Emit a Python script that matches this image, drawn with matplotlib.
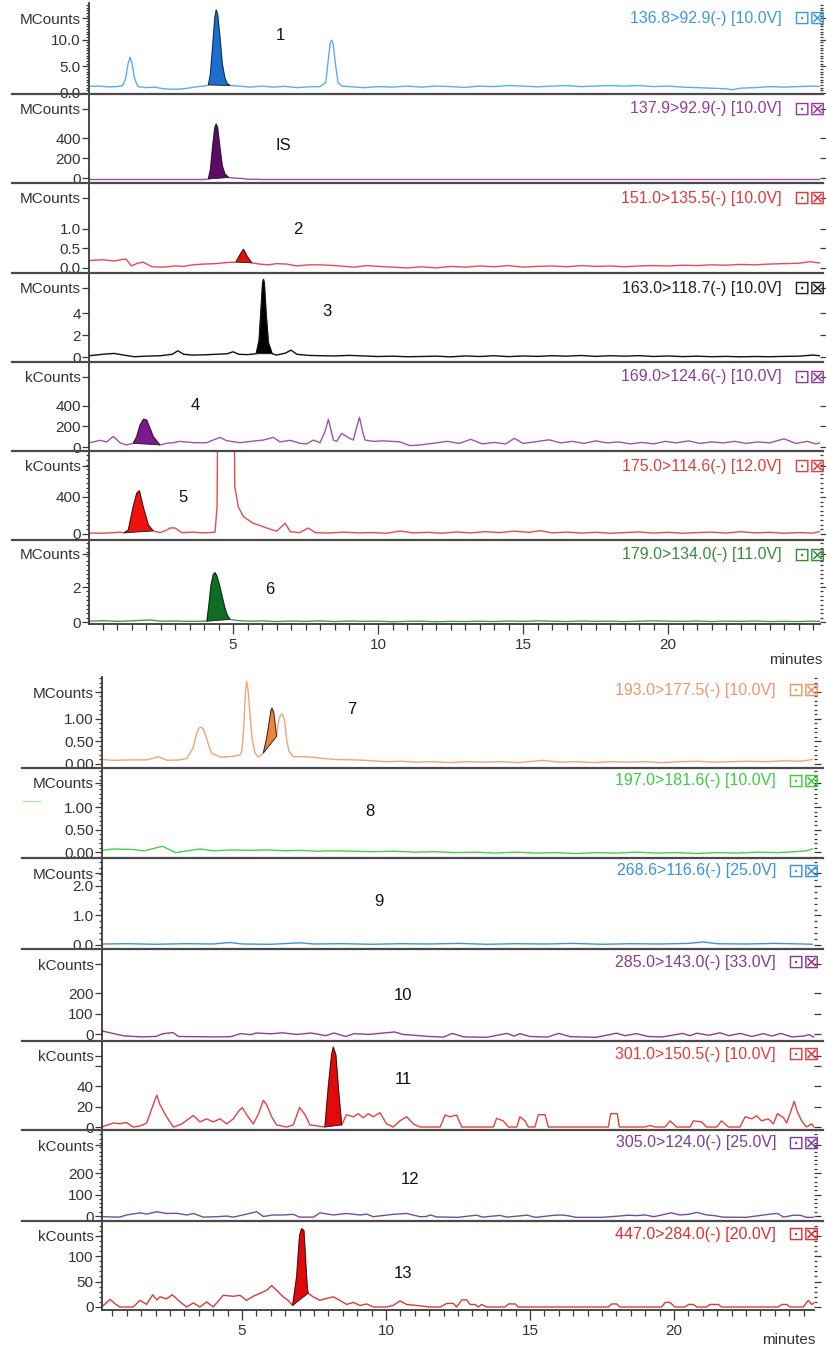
"""
MRM chromatograms - 13 analytes + IS, two stacked groups of 7 traces.
"""
import numpy as np
import matplotlib
matplotlib.use("Agg")
import matplotlib.pyplot as plt
from matplotlib.lines import Line2D
from matplotlib.ticker import MultipleLocator, FixedLocator, NullLocator

plt.rcParams["font.family"] = ["Liberation Sans", "DejaVu Sans"]

W, H = 826, 1349

# ---- traces: (retention time [min], intensity [panel units]) ----
TRACE_1 = [(0.05, 1.25), (0.4, 1.3), (0.7, 1.15), (1.0, 1.2), (1.2, 1.4), (1.3, 2.8), (1.38, 5.5),
           (1.45, 6.7), (1.52, 5.5), (1.6, 2.8), (1.72, 1.2), (2.0, 1.0), (2.3, 1.1), (2.6, 0.8),
           (2.9, 0.7), (3.2, 0.75), (3.5, 0.95), (3.8, 1.2), (4.0, 1.3), (4.15, 1.5), (4.22, 3.5),
           (4.3, 9.0), (4.37, 14.0), (4.42, 15.6), (4.47, 14.8), (4.55, 10.5), (4.63, 5.5), (4.72, 2.8),
           (4.8, 1.8), (4.9, 1.4), (5.2, 1.3), (5.6, 1.1), (6.0, 1.3), (6.4, 1.1), (6.8, 1.25),
           (7.2, 1.0), (7.6, 1.15), (8.0, 1.2), (8.2, 2.0), (8.27, 5.5), (8.35, 9.3), (8.4, 9.9),
           (8.45, 9.3), (8.53, 5.5), (8.62, 2.0), (8.75, 1.3), (9.0, 1.2), (9.5, 1.0), (10.0, 1.2),
           (10.5, 1.1), (11.0, 1.3), (11.5, 1.1), (12.0, 1.3), (12.5, 1.2), (13.0, 1.05), (13.5, 1.3),
           (14.0, 1.2), (14.5, 1.4), (15.0, 1.3), (15.5, 1.15), (16.0, 1.3), (16.5, 1.4), (17.0, 1.2),
           (17.5, 1.3), (18.0, 1.4), (18.5, 1.3), (19.0, 1.4), (19.5, 1.2), (20.0, 1.3), (20.5, 1.1),
           (21.0, 1.0), (21.5, 0.9), (22.0, 0.8), (22.2, 0.6), (22.5, 0.9), (23.0, 1.0), (23.5, 1.2),
           (24.0, 1.1), (24.5, 1.2), (25.0, 1.3), (25.3, 1.2)]

TRACE_IS = [(0.05, -15), (2.0, -15), (4.0, -15), (4.15, -10), (4.22, 80), (4.3, 320), (4.37, 500),
            (4.42, 540), (4.47, 500), (4.55, 300), (4.63, 120), (4.72, 40), (4.85, 5), (5.0, 0),
            (5.3, -5), (5.5, -12), (6.0, -15), (10.0, -15), (15.0, -15), (20.0, -15), (25.3, -15)]

TRACE_2 = [(0.05, 0.19), (0.5, 0.21), (0.9, 0.18), (1.3, 0.23), (1.5, 0.05), (1.7, 0.12), (1.9, 0.15),
           (2.2, 0.03), (2.6, 0.02), (3.0, 0.05), (3.3, 0.04), (3.6, 0.08), (4.0, 0.1), (4.4, 0.11),
           (4.8, 0.14), (5.1, 0.15), (5.25, 0.35), (5.36, 0.48), (5.5, 0.28), (5.65, 0.13), (5.9, 0.1),
           (6.2, 0.08), (6.5, 0.11), (6.85, 0.1), (7.2, 0.05), (7.6, 0.08), (8.0, 0.08), (8.5, 0.06),
           (9.2, 0.02), (9.6, 0.06), (10.0, 0.04), (10.5, 0.02), (11.0, 0.0), (11.5, 0.03), (12.0, 0.0),
           (12.5, 0.04), (13.0, 0.02), (13.5, 0.05), (14.0, 0.03), (14.5, 0.06), (15.0, 0.02),
           (15.5, 0.04), (16.0, 0.05), (16.5, 0.03), (17.0, 0.06), (17.5, 0.04), (18.0, 0.05),
           (18.5, 0.03), (19.0, 0.05), (19.5, 0.06), (20.0, 0.05), (20.5, 0.07), (21.0, 0.06),
           (21.5, 0.08), (22.0, 0.07), (22.5, 0.09), (23.0, 0.08), (23.5, 0.1), (24.0, 0.11),
           (24.5, 0.12), (24.9, 0.16), (25.3, 0.12)]

TRACE_3 = [(0.05, 0.12), (0.5, 0.25), (0.9, 0.33), (1.3, 0.15), (1.6, 0.03), (2.0, 0.08), (2.5, 0.12),
           (2.9, 0.25), (3.1, 0.57), (3.3, 0.25), (3.6, 0.18), (4.0, 0.2), (4.4, 0.25), (4.8, 0.3),
           (5.0, 0.48), (5.2, 0.25), (5.5, 0.22), (5.8, 0.3), (5.9, 1.5), (5.97, 4.5), (6.02, 6.7),
           (6.05, 7.06), (6.08, 6.7), (6.14, 4.0), (6.22, 1.3), (6.35, 0.3), (6.5, 0.18), (6.8, 0.35),
           (7.0, 0.63), (7.2, 0.25), (7.6, 0.15), (8.0, 0.12), (8.5, 0.1), (9.0, 0.15), (9.5, 0.1),
           (10.0, 0.05), (10.5, 0.08), (11.0, 0.03), (11.5, 0.05), (12.0, 0.08), (12.5, 0.02),
           (13.0, 0.1), (13.5, 0.05), (14.0, 0.12), (14.5, 0.04), (15.0, 0.1), (15.5, 0.06),
           (16.0, 0.12), (16.5, 0.08), (17.0, 0.14), (17.5, 0.06), (18.0, 0.12), (18.5, 0.08),
           (19.0, 0.13), (19.5, 0.05), (20.0, 0.1), (20.5, 0.04), (21.0, 0.08), (21.5, 0.03),
           (22.0, 0.06), (22.5, 0.02), (23.0, 0.05), (23.5, 0.03), (24.0, 0.06), (24.5, 0.08),
           (25.0, 0.18), (25.3, 0.1)]

TRACE_4 = [(0.07, 42), (0.41, 65), (0.64, 49), (0.87, 104), (1.1, 42), (1.33, 20), (1.56, 36),
           (1.68, 100), (1.79, 210), (1.91, 270), (2.02, 263), (2.14, 180), (2.25, 100), (2.48, 20),
           (2.71, 36), (2.94, 42), (3.17, 55), (3.63, 42), (4.09, 42), (4.55, 94), (4.78, 62),
           (5.24, 42), (5.7, 58), (6.05, 68), (6.39, 94), (6.62, 50), (6.97, 65), (7.31, 36),
           (7.54, 30), (7.77, 68), (8.0, 42), (8.17, 150), (8.29, 270), (8.46, 68), (8.57, 55),
           (8.75, 133), (8.98, 90), (9.15, 68), (9.27, 200), (9.36, 289), (9.47, 150), (9.55, 68),
           (9.84, 55), (10.18, 60), (10.76, 50), (11.1, 13), (11.45, 20), (12.0, 40), (12.4, 55),
           (12.8, 35), (13.2, 75), (13.6, 30), (14.0, 45), (14.4, 30), (14.7, 85), (15.0, 35),
           (15.4, 50), (15.9, 70), (16.3, 40), (16.7, 55), (17.1, 35), (17.5, 60), (17.9, 40),
           (18.3, 50), (18.7, 30), (19.1, 45), (19.5, 30), (19.9, 55), (20.3, 40), (20.7, 60),
           (21.1, 35), (21.5, 50), (21.9, 40), (22.3, 55), (22.7, 35), (23.1, 50), (23.5, 40),
           (24.0, 80), (24.4, 35), (24.8, 55), (25.1, 30), (25.3, 45)]

TRACE_5 = [(0.05, 10), (0.5, 8), (0.9, 15), (1.1, 20), (1.24, 12), (1.39, 43), (1.56, 295), (1.68, 440),
           (1.77, 468), (1.9, 295), (2.08, 97), (2.25, 33), (2.48, 15), (2.7, 40), (2.83, 65),
           (3.0, 65), (3.23, 15), (3.6, 20), (4.0, 12), (4.38, 20), (4.45, 300), (4.5, 2500),
           (4.9, 3000), (5.02, 2500), (5.06, 511), (5.18, 295), (5.36, 187), (5.7, 115), (5.95, 90),
           (6.16, 65), (6.5, 30), (6.8, 115), (6.97, 25), (7.3, 15), (7.6, 65), (7.83, 15), (8.3, 10),
           (8.8, 20), (9.3, 12), (9.8, 15), (10.3, 8), (10.76, 32), (11.2, 12), (11.7, 18), (12.2, 8),
           (12.7, 22), (13.2, 12), (13.7, 25), (14.2, 15), (14.7, 30), (15.2, 18), (15.6, 35),
           (16.0, 12), (16.5, 20), (17.0, 10), (17.5, 18), (18.0, 8), (18.5, 15), (19.0, 22),
           (19.5, 10), (20.0, 18), (20.5, 8), (21.0, 15), (21.5, 20), (22.0, 10), (22.5, 25),
           (23.0, 12), (23.5, 18), (24.0, 8), (24.5, 15), (25.0, 10), (25.3, 30)]

TRACE_6 = [(0.05, 0.05), (0.5, 0.08), (1.0, 0.04), (1.5, 0.07), (2.14, 0.12), (2.5, 0.05), (3.0, 0.06),
           (3.5, 0.04), (4.1, 0.05), (4.17, 1.0), (4.24, 2.1), (4.32, 2.72), (4.38, 2.82), (4.44, 2.65),
           (4.52, 2.2), (4.62, 1.5), (4.72, 0.8), (4.8, 0.4), (4.9, 0.15), (5.2, 0.08), (5.6, 0.05),
           (6.0, 0.07), (6.5, 0.03), (7.0, 0.06), (7.5, 0.04), (8.0, 0.07), (8.5, 0.03), (9.0, 0.06),
           (9.5, 0.04), (10.0, 0.05), (10.5, 0.02), (11.0, 0.04), (11.5, 0.05), (12.0, 0.02),
           (12.5, 0.04), (13.0, 0.03), (13.5, 0.05), (14.0, 0.03), (14.5, 0.06), (15.0, 0.04),
           (15.5, 0.07), (16.0, 0.05), (16.5, 0.03), (17.0, 0.06), (17.5, 0.04), (18.0, 0.05),
           (18.5, 0.03), (19.0, 0.05), (19.5, 0.07), (20.0, 0.05), (20.5, 0.04), (21.0, 0.06),
           (21.5, 0.03), (22.0, 0.05), (22.5, 0.04), (23.0, 0.06), (23.5, 0.03), (24.0, 0.04),
           (24.5, 0.03), (25.0, 0.05), (25.3, 0.04)]

TRACE_7 = [(0.14, 0.10), (0.5, 0.08), (1.23, 0.09), (1.7, 0.09), (2.1, 0.16), (2.4, 0.08), (2.85, 0.09),
           (3.08, 0.12), (3.3, 0.35), (3.4, 0.62), (3.5, 0.79), (3.58, 0.82), (3.66, 0.77), (3.75, 0.62),
           (3.85, 0.4), (3.95, 0.24), (4.25, 0.15), (4.7, 0.17), (4.93, 0.2), (5.0, 0.3), (5.06, 0.8),
           (5.11, 1.5), (5.16, 1.83), (5.21, 1.65), (5.28, 1.1), (5.35, 0.55), (5.45, 0.25),
           (5.57, 0.15), (5.74, 0.24), (5.85, 0.55), (5.95, 0.95), (6.01, 1.2), (6.04, 1.24),
           (6.1, 1.15), (6.16, 0.85), (6.2, 0.61), (6.27, 0.95), (6.34, 1.09), (6.41, 1.1), (6.48, 0.95),
           (6.55, 0.55), (6.63, 0.28), (6.78, 0.16), (7.24, 0.16), (7.7, 0.13), (8.17, 0.1), (8.9, 0.09),
           (9.3, 0.08), (10.0, 0.05), (10.5, 0.06), (11.0, 0.04), (11.6, 0.05), (12.2, 0.03),
           (12.8, 0.05), (13.4, 0.04), (14.0, 0.05), (14.6, 0.03), (15.45, 0.08), (16.0, 0.04),
           (16.6, 0.05), (17.2, 0.03), (17.8, 0.05), (18.4, 0.04), (19.0, 0.05), (19.6, 0.03),
           (20.2, 0.05), (20.8, 0.06), (21.4, 0.04), (22.0, 0.05), (22.6, 0.06), (23.2, 0.05),
           (23.8, 0.07), (24.4, 0.06), (24.8, 0.1)]

TRACE_8 = [(0.14, 0.04), (0.5, 0.07), (1.2, 0.06), (1.6, 0.03), (2.24, 0.13), (2.7, -0.01), (3.1, 0.03),
           (3.55, 0.07), (4.0, 0.03), (4.7, 0.05), (5.3, 0.04), (5.9, 0.05), (6.5, 0.03), (7.0, 0.04),
           (7.6, 0.02), (8.2, 0.03), (8.9, 0.02), (9.5, 0.01), (10.3, 0.02), (11.0, 0.0), (11.7, 0.01),
           (12.4, -0.01), (13.1, 0.0), (13.8, -0.02), (14.5, 0.0), (15.2, -0.02), (15.9, -0.01),
           (16.6, -0.03), (17.3, -0.01), (18.0, -0.02), (18.7, 0.0), (19.4, -0.02), (20.1, -0.01),
           (20.8, -0.03), (21.5, -0.01), (22.2, -0.02), (22.9, 0.0), (23.6, -0.01), (24.2, 0.01),
           (24.6, 0.03), (24.8, 0.07)]

TRACE_9 = [(0.14, 0.03), (1.0, 0.04), (2.0, 0.02), (3.0, 0.04), (4.0, 0.03), (4.58, 0.08), (5.0, 0.03),
           (6.0, 0.02), (7.0, 0.07), (7.5, 0.03), (8.5, 0.04), (9.5, 0.02), (10.5, 0.04), (11.5, 0.03),
           (12.5, 0.05), (13.5, 0.02), (14.5, 0.04), (15.5, 0.03), (16.5, 0.05), (17.5, 0.02),
           (18.5, 0.04), (19.5, 0.03), (20.5, 0.05), (21.0, 0.1), (21.5, 0.04), (22.5, 0.03),
           (23.5, 0.05), (24.5, 0.03), (24.8, 0.02)]

TRACE_10 = [(0.14, 15), (0.3, 10), (0.55, 2), (0.9, -9), (1.5, -14), (2.0, -12), (2.27, 2), (2.6, 7),
            (2.8, -12), (4.0, -14), (4.6, -13), (4.95, 2), (5.3, -3), (5.5, 5), (6.0, 1), (6.4, 6),
            (6.9, -2), (7.4, 5), (7.9, -8), (8.2, 5), (8.6, -12), (8.9, 2), (9.4, -2), (9.9, 5),
            (10.3, 10), (10.6, -2), (11.5, -12), (12.0, -15), (12.3, 3), (12.7, -14), (13.5, -16),
            (14.2, 3), (14.45, -10), (14.65, 2), (15.0, -12), (15.6, -15), (16.0, 3), (16.4, -13),
            (17.3, -16), (18.0, 4), (18.3, -8), (18.7, 2), (19.1, -12), (19.6, -14), (20.3, 3),
            (20.55, -8), (20.8, 4), (21.2, -6), (21.6, 6), (21.9, -8), (22.3, 3), (22.7, -12),
            (23.1, 2), (23.4, -10), (23.7, 3), (24.1, -14), (24.5, -10), (24.7, -3), (24.85, -15)]

TRACE_11 = [(0.13, 0), (0.53, 3.9), (0.76, 3.2), (0.99, 4.5), (1.22, 0), (1.46, 1), (1.69, 3.9),
            (1.92, 22), (2.04, 31), (2.15, 22), (2.38, 10), (2.62, 0), (2.91, 3), (3.31, 11.3),
            (3.54, 5), (3.77, 8), (4.0, 5), (4.24, 8), (4.47, 3), (4.7, 8), (4.87, 15), (5.01, 19),
            (5.16, 12), (5.39, 3), (5.56, 12), (5.74, 26), (5.85, 22), (6.03, 10), (6.2, 2), (6.55, 0),
            (6.78, 2), (7.0, 19), (7.19, 12), (7.36, 2), (7.88, 0), (8.0, 40), (8.11, 70), (8.17, 78),
            (8.26, 70), (8.34, 40), (8.46, 2), (8.63, 12), (8.87, 10), (9.04, 13), (9.21, 9),
            (9.38, 13), (9.56, 10), (9.79, 14), (10.02, 3), (10.25, 0), (10.48, 6), (10.72, 10),
            (10.95, 3), (11.18, 0), (11.88, 0), (12.05, 11.7), (12.22, 10), (12.45, 11.7), (12.63, 0),
            (13.73, 0), (13.84, 8.5), (14.07, 6), (14.25, 0), (14.54, 0), (14.65, 10), (14.83, 6),
            (14.94, 0), (15.17, 0), (15.29, 12), (15.52, 12), (15.64, 0), (17.72, 0), (17.8, 13),
            (18.03, 13), (18.1, 0), (18.99, 0), (19.17, 1.5), (19.34, 0), (19.69, 0), (19.86, 6),
            (20.09, 0), (20.56, 0), (20.67, 6), (20.96, 5), (21.13, 0), (21.48, 0), (21.65, 6),
            (21.89, 0), (22.29, 0), (22.47, 10), (22.7, 8), (22.87, 11), (23.04, 6), (23.27, 8),
            (23.45, 3), (23.59, 13), (23.8, 9), (23.91, 4), (24.05, 15), (24.17, 25), (24.28, 15),
            (24.43, 6), (24.6, 0), (24.78, 3), (24.86, 0)]

TRACE_12 = [(0.13, -3), (0.76, -5), (0.99, 5), (1.46, 15), (1.69, 9), (2.04, 20), (2.38, 12), (2.73, 13),
            (3.08, 5), (3.31, 12), (3.66, -5), (4.12, -3), (4.47, 0), (4.7, -5), (5.16, 9), (5.51, 20),
            (5.74, -2), (6.08, 5), (6.43, 5), (6.78, 8), (7.0, -5), (7.48, -5), (7.71, 15), (8.17, 5),
            (8.63, 12), (9.1, 5), (9.33, 9), (9.56, -3), (10.25, 8), (10.72, 12), (11.18, -3),
            (11.4, -2), (11.55, 5), (11.75, -4), (12.5, -6), (13.0, 2), (13.15, 4), (13.35, -5),
            (13.96, 3), (14.2, -5), (14.9, 4), (15.2, -6), (15.8, 3), (16.05, 5), (16.3, 2), (16.6, -6),
            (17.5, -6), (18.1, 0), (18.4, 4), (18.7, 2), (19.0, 5), (19.3, -3), (19.6, 6), (19.9, 15),
            (20.2, 5), (20.5, 8), (20.8, 17), (21.1, 6), (21.4, 2), (21.7, -5), (22.5, -6), (23.4, 10),
            (23.6, 12), (23.8, -5), (24.15, 4), (24.4, 3), (24.6, -6), (24.85, -6)]

TRACE_13 = [(0.13, 0), (0.42, 15), (0.6, 6), (0.76, 0), (1.22, 0), (1.46, 13), (1.69, 5), (1.9, 24),
            (2.04, 14), (2.15, 20), (2.38, 16), (2.58, 24), (2.85, 10), (3.08, 0), (3.31, 8), (3.54, 0),
            (3.77, 10), (4.0, 0), (4.35, 23), (4.7, 21), (4.93, 23), (5.16, 13), (5.39, 21), (5.63, 27),
            (5.86, 33), (6.03, 42), (6.2, 33), (6.43, 20), (6.6, 13), (6.76, 3), (6.9, 60), (7.0, 140),
            (7.07, 154), (7.15, 150), (7.22, 80), (7.27, 35), (7.3, 27), (7.47, 20), (7.71, 13),
            (7.88, 16), (8.17, 20), (8.4, 13), (8.63, 5), (8.87, 9), (9.1, 3), (9.33, 6), (9.56, 0),
            (10.02, 0), (10.25, 3), (10.48, 12), (10.72, 5), (11.06, 3), (11.5, 0), (11.88, 0),
            (12.11, 7), (12.34, 7), (12.45, 0), (12.63, 14), (12.8, 14), (12.92, 5), (13.09, 5),
            (13.2, 0), (13.32, 5), (13.5, 0), (14.13, 0), (14.25, 6), (14.48, 6), (14.59, 0),
            (17.72, 0), (17.84, 6), (18.01, 6), (18.12, 0), (19.57, 0), (19.69, 9), (19.86, 9),
            (20.03, 0), (20.38, 0), (20.5, 5), (20.67, 5), (20.79, 0), (21.13, 0), (21.25, 5),
            (21.54, 5), (21.65, 0), (23.62, 0), (23.74, 5), (23.91, 5), (24.03, 0), (24.49, 0),
            (24.66, 13), (24.78, 5), (24.86, 8)]

# integrated peak windows (min)
FILLS = {"1": (4.15, 4.9), "IS": (4.15, 4.85), "2": (5.1, 5.65), "3": (5.8, 6.35), "4": (1.56, 2.48),
         "5": (1.24, 2.25), "6": (4.1, 4.9), "7": (5.74, 6.2), "11": (7.88, 8.46), "13": (6.76, 7.3)}

TRANSITIONS = ["136.8>92.9(-) [10.0V]", "137.9>92.9(-) [10.0V]", "151.0>135.5(-) [10.0V]",
               "163.0>118.7(-) [10.0V]", "169.0>124.6(-) [10.0V]", "175.0>114.6(-) [12.0V]",
               "179.0>134.0(-) [11.0V]", "193.0>177.5(-) [10.0V]", "197.0>181.6(-) [10.0V]",
               "268.6>116.6(-) [25.0V]", "285.0>143.0(-) [33.0V]", "301.0>150.5(-) [10.0V]",
               "305.0>124.0(-) [25.0V]", "447.0>284.0(-) [20.0V]"]
PEAK_NAMES = ["1", "IS", "2", "3", "4", "5", "6", "7", "8", "9", "10", "11", "12", "13"]
UNITS = ["MCounts", "MCounts", "MCounts", "MCounts", "kCounts", "kCounts", "MCounts",
         "MCounts", "MCounts", "MCounts", "kCounts", "kCounts", "kCounts", "kCounts"]
YTICKS = [[0, 5, 10], [0, 200, 400], [0, 0.5, 1.0], [0, 2, 4], [0, 200, 400], [0, 400], [0, 2],
          [0, 0.5, 1.0], [0, 0.5, 1.0], [0, 1, 2], [0, 100, 200], [0, 20, 40, 60], [0, 100, 200],
          [0, 50, 100]]
YTICKLABELS = [["0.0", "5.0", "10.0"], ["0", "200", "400"], ["0.0", "0.5", "1.0"], ["0", "2", "4"],
               ["0", "200", "400"], ["0", "400"], ["0", "2"], ["0.00", "0.50", "1.00"],
               ["0.00", "0.50", "1.00"], ["0.0", "1.0", "2.0"], ["0", "100", "200"],
               ["0", "20", "40", ""], ["0", "100", "200"], ["0", "50", "100"]]
TRACES = [TRACE_1, TRACE_IS, TRACE_2, TRACE_3, TRACE_4, TRACE_5, TRACE_6,
          TRACE_7, TRACE_8, TRACE_9, TRACE_10, TRACE_11, TRACE_12, TRACE_13]

# ---- layout / style (pixels of the 826x1349 canvas) ----
YLIMS = [(-0.19, 16.9), (-50, 840), (-0.13, 2.18), (-0.45, 7.64), (-39, 829), (-65, 897), (-0.11, 4.69),
         (-0.09, 1.93), (-0.13, 1.87), (-0.14, 2.95), (-34, 415), (-2.9, 83.9), (-23, 400), (-5.9, 169)]
MINOR = [0.5, None, None, None, None, 50, 0.25, 0.1, 0.1, 0.2, None, None, 20, 10]
LINE_COLORS = ["#5aaeea", "#a04aa8", "#e84a55", "#101010", "#9a55a8", "#e64b4b", "#4a9a4a",
               "#f4a278", "#44d444", "#3d95dd", "#8c3f8c", "#e84040", "#7a4a9a", "#e03838"]
TEXT_COLORS = ["#3c9be0", "#9b3b9b", "#e2383f", "#222222", "#8e3c96", "#e24040", "#3a8c3a",
               "#f2966a", "#3dcc3d", "#3a92da", "#8a3a8a", "#e23c3c", "#7b3f96", "#e03030"]
FILL_COLORS = {"1": "#1b6fd1", "IS": "#5c0c66", "2": "#e41010", "3": "#000000", "4": "#7a1a8c",
               "5": "#f01010", "6": "#0d6d22", "7": "#e8843e", "11": "#e50a0a", "13": "#e00a0a"}
PEAK_XY = [(280, 35), (283, 145), (298, 230), (327, 311), (195, 405), (183, 497), (270, 590),
           (352, 710), (370, 811), (379, 902), (403, 995), (403, 1080), (410, 1180), (403, 1273)]

GROUPS = [
    dict(edges=[3, 94, 183, 273, 362, 451, 540, 624], left=89, right=820, xlim=(0.034, 25.24),
         div_left=12, label_right=782, label_dy=15, minutes=(822, 660)),
    dict(edges=[677, 768, 858, 949, 1041, 1130, 1221, 1310], left=102, right=814, xlim=(0.14, 24.86),
         div_left=22, label_right=776, label_dy=13, minutes=(815, 1340)),
]
AX_COLOR = "#3a3a3a"


def fx(px):
    return px / W


def fy(py):
    return 1 - py / H


fig = plt.figure(figsize=(W / 100, H / 100), dpi=100)

for g_i, g in enumerate(GROUPS):
    edges = g["edges"]
    for k in range(7):
        i = g_i * 7 + k
        top, bot = edges[k], edges[k + 1]
        last = k == 6
        ax = fig.add_axes([fx(g["left"]), fy(bot), fx(g["right"] - g["left"]), (bot - top) / H])

        t, y = np.array(TRACES[i], dtype=float).T
        ax.plot(t, y, color=LINE_COLORS[i], lw=1.0, solid_joinstyle="round", zorder=2)
        name = PEAK_NAMES[i]
        if name in FILLS:
            lo, hi = FILLS[name]
            m = (t >= lo - 1e-9) & (t <= hi + 1e-9)
            ax.fill(t[m], y[m], facecolor=FILL_COLORS[name], edgecolor="#1a1a1a", lw=0.6, zorder=3)

        ax.set_xlim(*g["xlim"])
        y0, y1 = YLIMS[i]
        ax.set_ylim(y0, y1)
        y_unit = y0 + 0.835 * (y1 - y0)
        ax.set_yticks(YTICKS[i] + [y_unit], YTICKLABELS[i] + [UNITS[i]])
        if MINOR[i]:
            ax.yaxis.set_minor_locator(MultipleLocator(MINOR[i]))
        else:
            ax.yaxis.set_minor_locator(NullLocator())
        ax.tick_params(axis="y", which="both", left=True, right=True, direction="out",
                       color=AX_COLOR, labelcolor="#333333", labelsize=11, pad=1, width=0.9)
        ax.tick_params(axis="y", which="major", length=5)
        ax.tick_params(axis="y", which="minor", length=2.5)

        for s in ("top", "right"):
            ax.spines[s].set_visible(False)
        ax.spines["left"].set_color(AX_COLOR)
        ax.spines["left"].set_linewidth(1.3)
        ax.patch.set_alpha(0)

        if last:
            ax.spines["bottom"].set_color(AX_COLOR)
            ax.spines["bottom"].set_linewidth(1.3)
            ax.xaxis.set_major_locator(FixedLocator([5, 10, 15, 20]))
            ax.xaxis.set_minor_locator(MultipleLocator(0.5))
            ax.tick_params(axis="x", which="both", direction="out", color=AX_COLOR,
                           labelcolor="#333333", labelsize=11, width=0.9, pad=3)
            ax.tick_params(axis="x", which="major", length=7)
            ax.tick_params(axis="x", which="minor", length=4)
        else:
            ax.spines["bottom"].set_visible(False)
            ax.tick_params(axis="x", which="both", bottom=False, labelbottom=False)
            fig.add_artist(Line2D([fx(g["div_left"]), fx(823)], [fy(bot), fy(bot)],
                                  color="#4a4a4a", lw=1.6, zorder=5))

        # transition label + the little "view / close" icon
        ly = fy(top + g["label_dy"])
        fig.text(fx(g["label_right"]), ly, TRANSITIONS[i], ha="right", va="center",
                 color=TEXT_COLORS[i], fontsize=11.5)
        fig.text(fx(g["label_right"] + 11), ly, "\u22a1\u22a0", ha="left", va="center",
                 color=TEXT_COLORS[i], fontsize=14, family="DejaVu Sans")

        px, py = PEAK_XY[i]
        fig.text(fx(px), fy(py), name, ha="center", va="center", color="#111111", fontsize=12)

    mx, my = g["minutes"]
    fig.text(fx(mx), fy(my), "minutes", ha="right", va="center", color="#333333", fontsize=11)

# stray green mark left of trace 8
fig.add_artist(Line2D([fx(23), fx(40)], [fy(801), fy(801)], color="#a8eaa8", lw=1))

fig.savefig("out.png", dpi=100, facecolor="white")
